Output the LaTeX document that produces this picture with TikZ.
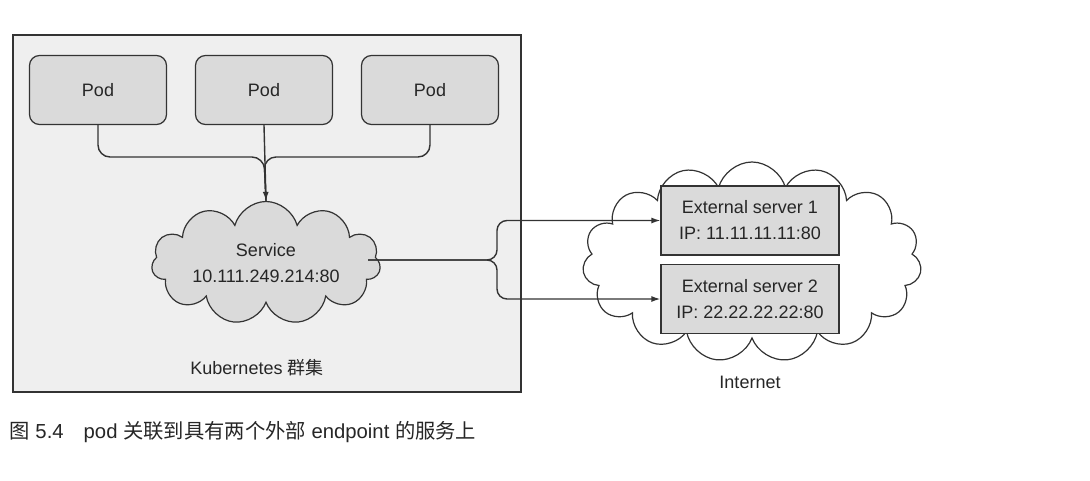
\documentclass[tikz,border=0pt]{standalone}
\usepackage{fontspec}
\setmainfont{Liberation Sans}
\newfontfamily\cjk{Noto Sans CJK SC}
\usetikzlibrary{shapes.symbols,arrows.meta}
\definecolor{boxgray}{HTML}{DADADA}
\definecolor{panelgray}{HTML}{EFEFEF}
\definecolor{inkgray}{HTML}{333333}
\tikzset{
  pod/.style={draw=inkgray, fill=boxgray, rounded corners=10pt,
    minimum width=137pt, minimum height=69pt, line width=1.2pt},
  server/.style={draw=inkgray, fill=boxgray, minimum width=178pt,
    minimum height=69pt, line width=1.2pt, align=center},
  puff/.style={cloud, cloud ignores aspect, draw=inkgray, line width=1.2pt, align=center},
  link/.style={draw=inkgray, line width=1.4pt},
  flow/.style={-{Latex[length=9pt,width=6pt]}},
  txt/.style={font=\fontsize{18}{26}\selectfont, text=black!85}
}
\begin{document}
\begin{tikzpicture}[x=1pt,y=-1pt]
\useasboundingbox[fill=white] (0,0) rectangle (1090,480);
% cluster
\draw[draw=inkgray, fill=panelgray, line width=1.2pt] (13,35) rectangle (521,392);
\node[pod,txt] (pod1) at (98,90) {Pod};
\node[pod,txt] (pod2) at (264,90) {Pod};
\node[pod,txt] (pod3) at (430,90) {Pod};
\node[puff, fill=boxgray, cloud puffs=11, minimum width=229pt, minimum height=123pt, txt]
    (svc) at (266,263) {Service\\10.111.249.214:80};
\node[txt] (kube) at (257,368) {Kubernetes {\cjk 群集}};
% internet
\node[puff, fill=white, cloud puffs=15, minimum width=339pt, minimum height=200pt]
    (inet) at (752,262) {};
\node[server,txt] (ext1) at (750,220.5) {External server 1\\IP: 11.11.11.11:80};
\node[server,txt] (ext2) at (750,299) {External server 2\\IP: 22.22.22.22:80};
\node[txt] (net) at (750,382) {Internet};
% connectors
\coordinate (join) at (264,157);
\coordinate (fork) at (497,260);
\draw[link, rounded corners=12pt] (pod1.south) |- (join) -- (svc.north);
\draw[link, rounded corners=12pt] (pod3.south) |- (join) -- (svc.north);
\draw[link, flow] (pod2.south) -- (svc.north);
\draw[link, flow, rounded corners=10pt] ([xshift=-12pt]svc.east |- fork) -- (fork) |- (ext1.west);
\draw[link, flow, rounded corners=10pt] ([xshift=-12pt]svc.east |- fork) -- (fork) |- (ext2.west);
% caption
\node[anchor=west, font=\fontsize{20.3}{24}\selectfont, text=black!85] (caption) at (6,432)
  {{\cjk 图} 5.4\hspace{20pt}pod {\cjk 关联到具有两个外部} endpoint {\cjk 的服务上}};
\end{tikzpicture}
\end{document}
